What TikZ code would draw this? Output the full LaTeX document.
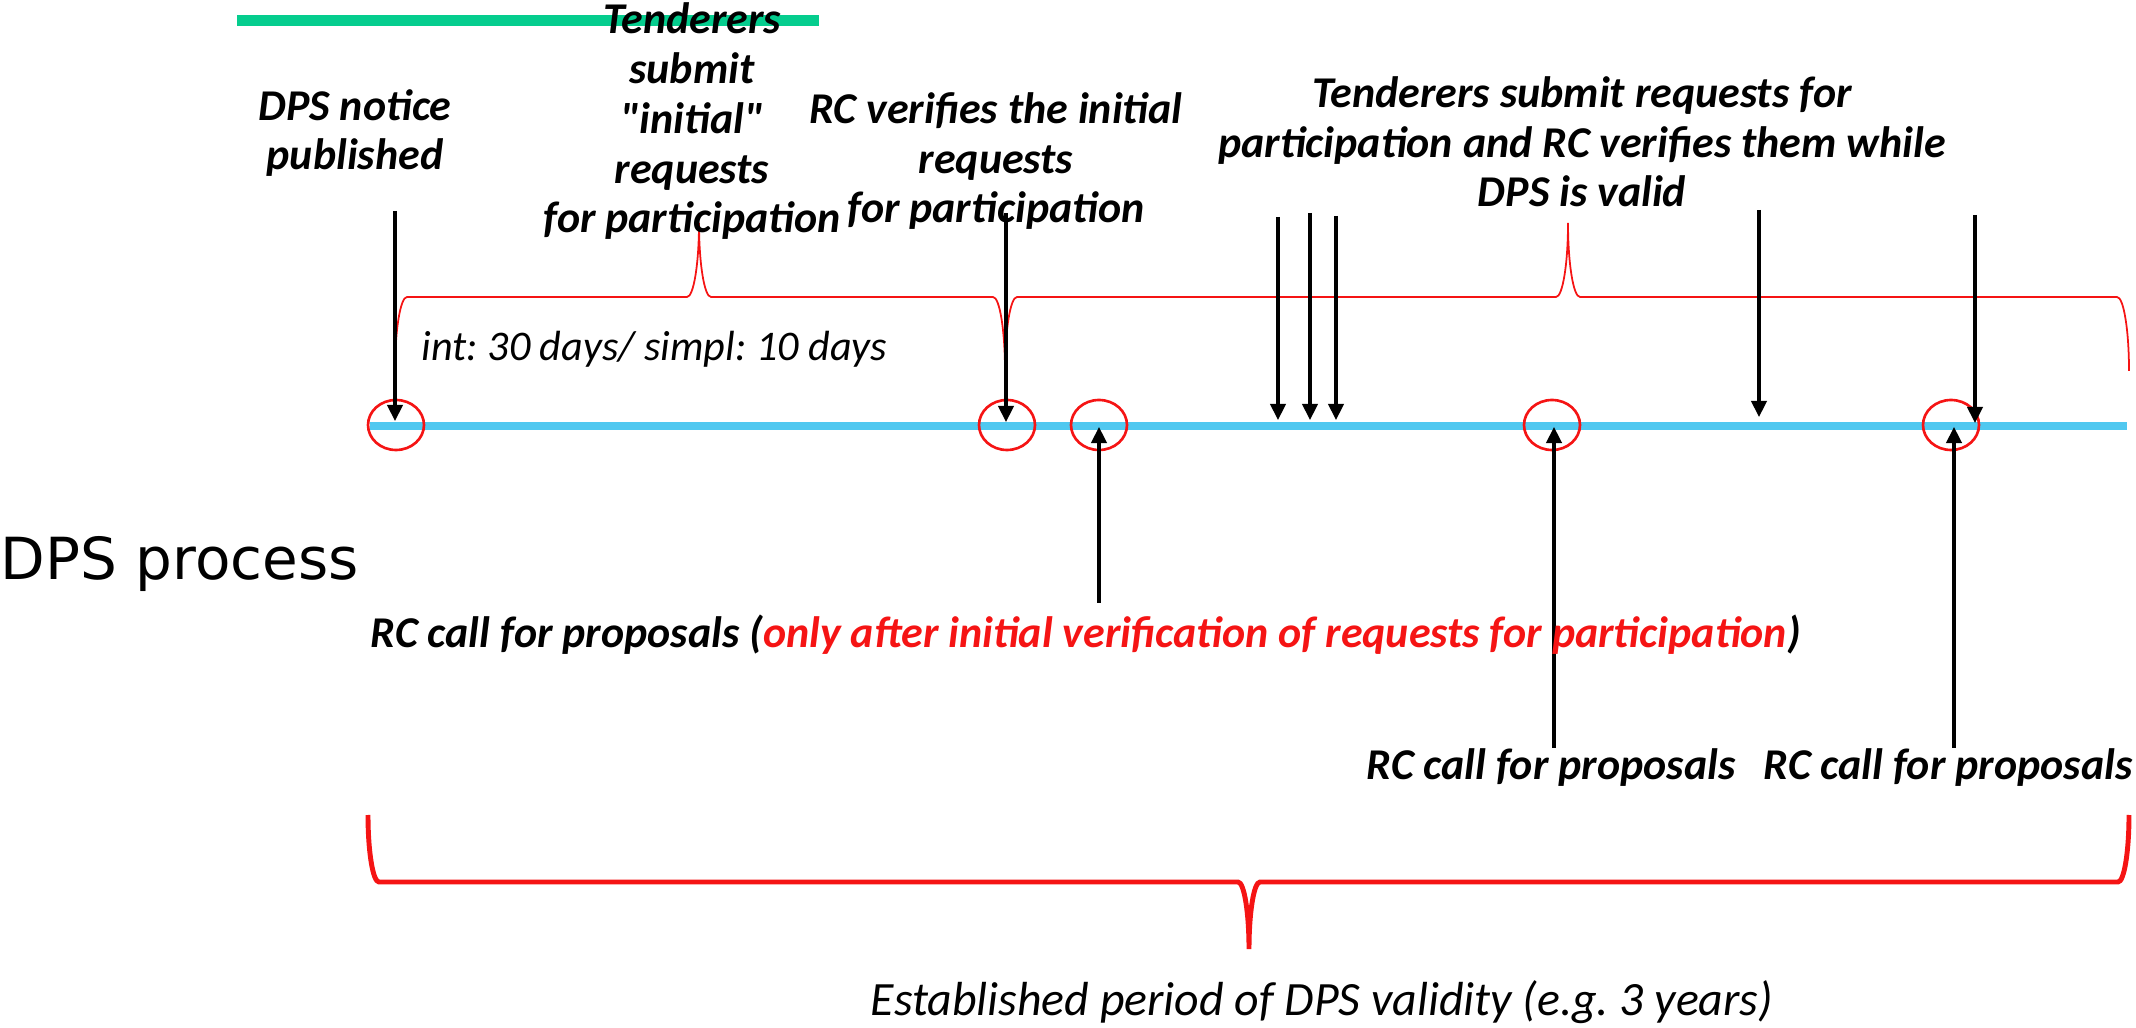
\documentclass[tikz,border=0pt]{standalone}
\usepackage{fontspec}
\setmainfont{Carlito}
\newfontfamily\carnt{Carlito}[Ligatures=TeXOff]
\newfontfamily\dvsans{DejaVu Sans}
\usetikzlibrary{arrows.meta}
\definecolor{bluel}{RGB}{80,200,240}
\definecolor{greenl}{RGB}{5,205,142}
\definecolor{redl}{RGB}{245,20,20}
\frenchspacing
\tikzset{
  lbl/.style={font=\fontsize{12.5pt}{14.2pt}\selectfont\bfseries\itshape, align=center, inner sep=0pt, anchor=base},
  ital/.style={font=\fontsize{12pt}{14pt}\selectfont\itshape, inner sep=0pt},
  arr/.style={line width=0.9pt, -{Triangle[width=4.4pt,length=4.6pt]}},
  marker/.style={draw=redl, line width=0.75pt},
  thinbrace/.style={draw=redl, line width=0.5pt},
  thickbrace/.style={draw=redl, line width=1.4pt},
}
% #1 xL, #2 xt, #3 xR, #4 yb, #5 h, #6 r, #7 style
\newcommand{\mybrace}[7]{%
  \draw[#7] (#1,{#4-#5}) .. controls (#1,{#4-0.448*#5}) and ({#1+0.448*#6},#4) .. ({#1+#6},#4)
    -- ({#2-#6},#4) .. controls ({#2-0.448*#6},#4) and (#2,{#4+0.448*#5}) .. (#2,{#4+#5})
    .. controls (#2,{#4+0.448*#5}) and ({#2+0.448*#6},#4) .. ({#2+#6},#4)
    -- ({#3-#6},#4) .. controls ({#3-0.448*#6},#4) and (#3,{#4-0.448*#5}) .. (#3,{#4-#5});}
\begin{document}
\begin{tikzpicture}[x=0.01cm,y=-0.01cm]
\useasboundingbox (0,0) rectangle (2136,1028);
% green bar
\draw[greenl, line width=3.1pt] (237,20.5) -- (819,20.5);
% top braces
\mybrace{395}{699}{1005}{297}{-74}{12}{thinbrace}
\mybrace{1005}{1568}{2129}{297}{-74}{12}{thinbrace}
% bottom brace
\mybrace{368}{1249}{2129}{882}{67}{11}{thickbrace}
% timeline
\coordinate (tlA) at (370,426);
\coordinate (tlB) at (2127,426);
\draw[bluel, line width=2.3pt] (tlA) -- (tlB);
% markers
\foreach \cx in {396,1007,1099,1552,1951}
  \draw[marker] (\cx,425) ellipse [x radius=28, y radius=25];
% down arrows
\coordinate (d1a) at (395,211);  \coordinate (d1b) at (395,421);
\coordinate (d2a) at (1006,213); \coordinate (d2b) at (1006,422);
\coordinate (d3a) at (1278,217); \coordinate (d3b) at (1278,420);
\coordinate (d4a) at (1310,213); \coordinate (d4b) at (1310,420);
\coordinate (d5a) at (1336,216); \coordinate (d5b) at (1336,420);
\coordinate (d6a) at (1759,210); \coordinate (d6b) at (1759,417);
\coordinate (d7a) at (1975,215); \coordinate (d7b) at (1975,423);
\foreach \i in {1,...,7} \draw[arr] (d\i a) -- (d\i b);
% up arrows
\coordinate (u1a) at (1099,603); \coordinate (u1b) at (1099,427);
\coordinate (u2a) at (1554,748); \coordinate (u2b) at (1554,427);
\coordinate (u3a) at (1954,748); \coordinate (u3b) at (1954,427);
\foreach \i in {1,2,3} \draw[arr] (u\i a) -- (u\i b);
% labels (base = baseline of last line)
\node[lbl] (dpsn) at (355,170) {DPS notice\\published};
\node[lbl] (tend) at (692,233) {Tenderers\\submit\\{\carnt"initial"}\\requests\\for participation};
\node[lbl] (rcver) at (996,223) {RC verifies the initial\\requests\\for participation};
\node[lbl] (tend2) at (1582,207) {Tenderers submit requests for\\participation and RC verifies them while\\DPS is valid};
\node[lbl, anchor=base west] (call1) at (370,648) {RC call for proposals (\textcolor{redl}{only after initial verification of requests for participation})};
\node[lbl] (call2) at (1551,780) {RC call for proposals};
\node[lbl] (call3) at (1948,780) {RC call for proposals};
\node[ital, anchor=base west] (days) at (421,361) {int: 30 days/ simpl: 10 days};
\node[ital, font=\fontsize{13.6pt}{16pt}\selectfont\itshape, anchor=base] (est) at (1322,1015) {Established period of DPS validity (e.g. 3 years)};
\node[inner sep=0pt, anchor=base west, font=\dvsans\fontsize{16.5pt}{19pt}\selectfont] (proc) at (0,580) {DPS process};
\end{tikzpicture}
\end{document}
